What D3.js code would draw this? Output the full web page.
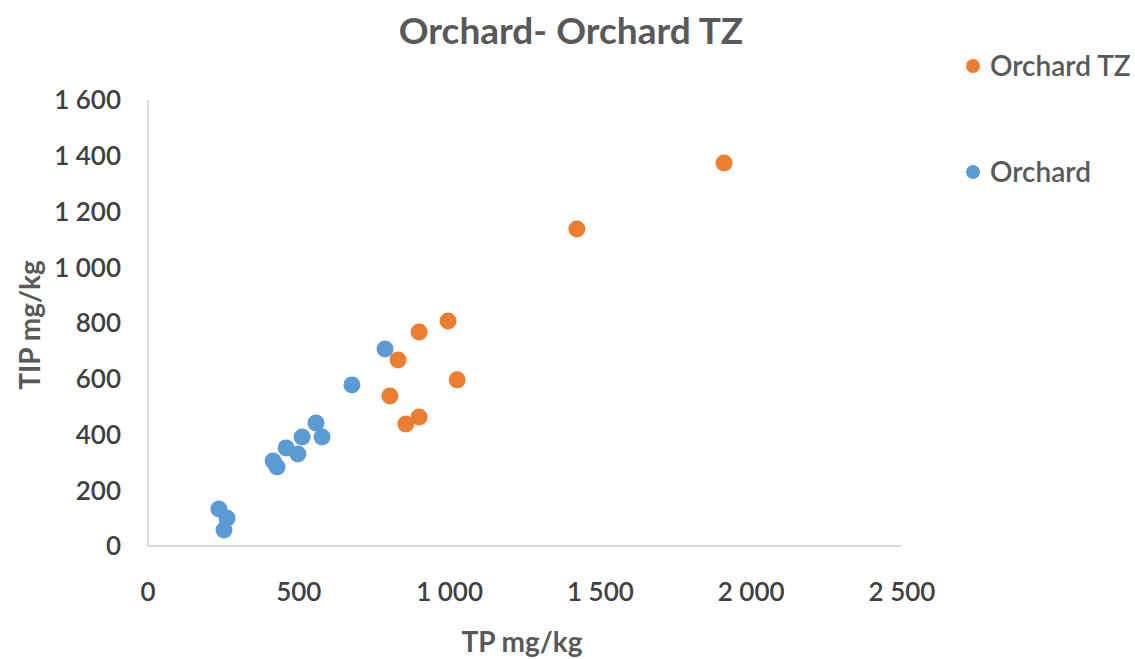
<!DOCTYPE html>
<html>
<head>
<meta charset="utf-8">
<script src="https://cdn.jsdelivr.net/npm/d3@7"></script>
<style>
  html, body { margin: 0; padding: 0; background: #fff; }
  svg { display: block; font-family: Lato, "Open Sans", sans-serif; }
</style>
</head>
<body>
<svg id="chart" width="1135" height="659"></svg>
<script>
// Total phosphorus (TP) vs inorganic phosphorus (TIP), mg/kg
const orchardTZ_TP  = [1910, 1422, 995, 899, 829, 1025, 802, 899, 855];
const orchardTZ_TIP = [1374, 1137, 807, 768, 667, 596, 538, 463, 438];
const orchard_TP  = [786, 676, 557, 577, 511, 458, 497, 415, 428, 235, 262, 252];
const orchard_TIP = [707, 578, 441, 391, 391, 352, 330, 305, 283, 133, 100, 57];
const xTicks = [0, 500, 1000, 1500, 2000, 2500];
const yTicks = [0, 200, 400, 600, 800, 1000, 1200, 1400, 1600];
const seriesNames = ["Orchard TZ", "Orchard"];
const seriesColors = ["#ED7D31", "#5B9BD5"];

const svg = d3.select("#chart");
const x = d3.scaleLinear().domain([0, 2500]).range([148, 902]);
const y = d3.scaleLinear().domain([0, 1600]).range([546, 100]);
const fmt = v => d3.format(",")(v).replace(/,/g, " ");

// axis lines
svg.append("line").attr("x1", x(0)).attr("x2", x(2500)).attr("y1", y(0)).attr("y2", y(0))
  .attr("stroke", "#d0d0d0").attr("stroke-width", 1.5);
svg.append("line").attr("x1", x(0)).attr("x2", x(0)).attr("y1", y(0)).attr("y2", y(1600))
  .attr("stroke", "#d0d0d0").attr("stroke-width", 1.5);

// tick labels
svg.append("g").selectAll("text").data(xTicks).join("text")
  .attr("x", d => x(d)).attr("y", 601).attr("text-anchor", "middle")
  .attr("font-size", 26).attr("font-weight", 600).attr("fill", "#404040")
  .text(fmt);
svg.append("g").selectAll("text").data(yTicks).join("text")
  .attr("x", 121).attr("y", d => y(d)).attr("dy", "0.36em").attr("text-anchor", "end")
  .attr("font-size", 26).attr("font-weight", 600).attr("fill", "#404040")
  .text(fmt);

// titles
svg.append("text").attr("x", 571).attr("y", 44).attr("text-anchor", "middle")
  .attr("font-size", 37).attr("font-weight", 700).attr("fill", "#595959")
  .text("Orchard- Orchard TZ");
svg.append("text").attr("x", 522).attr("y", 652).attr("text-anchor", "middle")
  .attr("font-size", 28).attr("font-weight", 700).attr("fill", "#595959")
  .text("TP mg/kg");
svg.append("text").attr("transform", "translate(40,325) rotate(-90)").attr("text-anchor", "middle")
  .attr("font-size", 28).attr("font-weight", 700).attr("fill", "#595959")
  .text("TIP mg/kg");

// points
const series = [
  { name: seriesNames[0], color: seriesColors[0], pts: orchardTZ_TP.map((v, i) => [v, orchardTZ_TIP[i]]) },
  { name: seriesNames[1], color: seriesColors[1], pts: orchard_TP.map((v, i) => [v, orchard_TIP[i]]) }
];
series.forEach(s => {
  svg.append("g").selectAll("circle").data(s.pts).join("circle")
    .attr("cx", d => x(d[0])).attr("cy", d => y(d[1])).attr("r", 8.5)
    .attr("fill", s.color);
});

// legend
const legendY = [66, 172];
series.forEach((s, i) => {
  svg.append("circle").attr("cx", 973).attr("cy", legendY[i]).attr("r", 7).attr("fill", s.color);
  svg.append("text").attr("x", 990).attr("y", legendY[i]).attr("dy", "0.36em")
    .attr("font-size", 28).attr("font-weight", 600).attr("fill", "#595959").text(s.name);
});
</script>
</body>
</html>
